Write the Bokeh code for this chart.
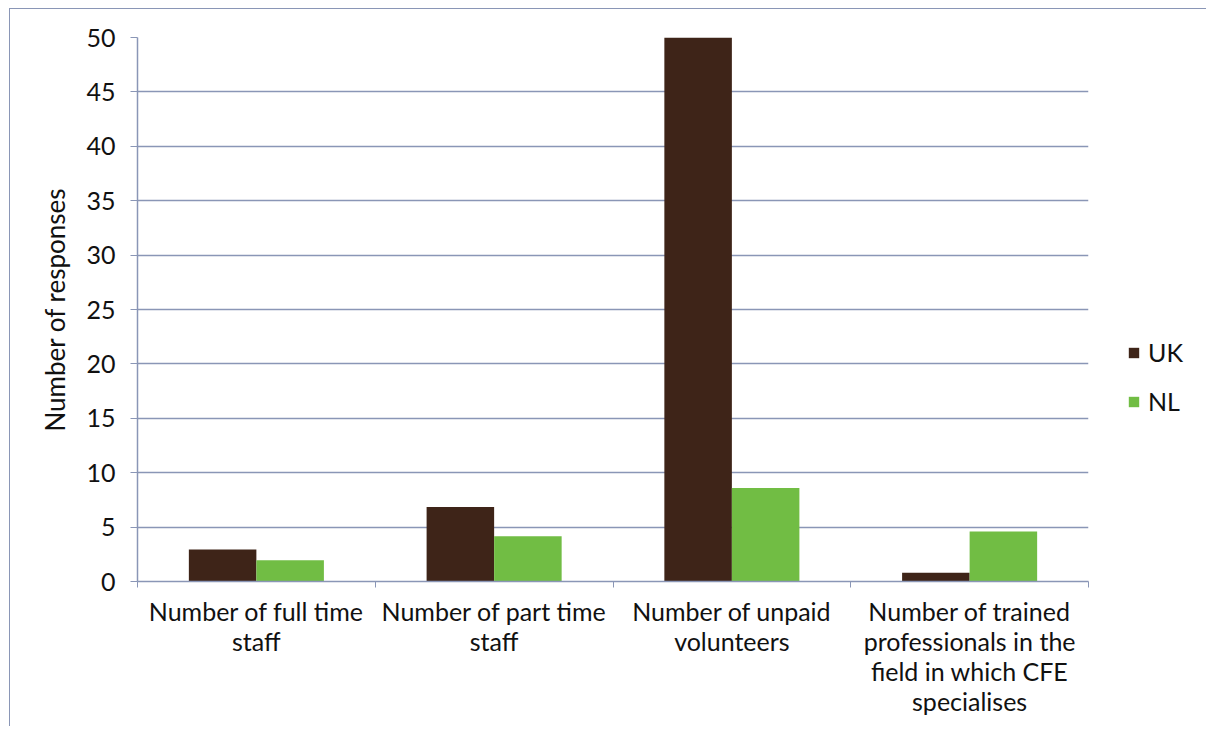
from bokeh.plotting import figure
from bokeh.models import ColumnDataSource, Range1d, FixedTicker, Legend, LegendItem
from bokeh.transform import dodge
from bokeh.embed import file_html
from bokeh.resources import INLINE

categories = [
    "Number of full time\nstaff",
    "Number of part time\nstaff",
    "Number of unpaid\nvolunteers",
    "Number of trained\nprofessionals in the\nfield in which CFE\nspecialises",
]
uk_values = [2.95, 6.85, 50.0, 0.8]
nl_values = [1.95, 4.15, 8.6, 4.6]
series_names = ["UK", "NL"]
series_colors = ["#3e2418", "#71bd44"]
y_ticks = [0, 5, 10, 15, 20, 25, 30, 35, 40, 45, 50]

FONT = "Lato"
FS = "25px"
AXIS_COLOR = "#8a96b6"
TEXT_COLOR = "#111111"

pos = [i + 0.5 for i in range(len(categories))]
source = ColumnDataSource(dict(x=pos, uk=uk_values, nl=nl_values))

p = figure(
    frame_width=951, frame_height=544,
    x_range=Range1d(0, len(categories)), y_range=Range1d(0, 50),
    output_backend="svg", toolbar_location=None,
    min_border_left=127, min_border_right=115, min_border_top=28, min_border_bottom=145,
)
p.styles = {"border-left": "1px solid #8a96b6", "border-top": "1px solid #8a96b6",
            "margin-left": "9px", "margin-top": "8px"}
p.outline_line_color = None
p.background_fill_color = "white"
p.border_fill_color = "white"

bw = 0.284
r_uk = p.vbar(x=dodge("x", -bw / 2, range=p.x_range), top="uk", width=bw, source=source,
              fill_color=series_colors[0], line_color=None)
r_nl = p.vbar(x=dodge("x", bw / 2, range=p.x_range), top="nl", width=bw, source=source,
              fill_color=series_colors[1], line_color=None)

# x axis
p.xaxis.ticker = FixedTicker(ticks=pos, minor_ticks=list(range(len(categories) + 1)))
p.xaxis.major_label_overrides = {x: c for x, c in zip(pos, categories)}
p.xaxis.major_tick_in = 0
p.xaxis.major_tick_out = 0
p.xaxis.minor_tick_in = 0
p.xaxis.minor_tick_out = 6
p.xaxis.minor_tick_line_color = AXIS_COLOR
p.xaxis.axis_line_color = AXIS_COLOR
p.xaxis.axis_line_width = 1.5
p.xaxis.major_label_text_font = FONT
p.xaxis.major_label_text_font_size = FS
p.xaxis.major_label_text_color = TEXT_COLOR
p.xaxis.major_label_text_line_height = 1.0
p.xaxis.major_label_standoff = 8

# y axis
p.yaxis.ticker = FixedTicker(ticks=y_ticks)
p.yaxis.minor_tick_line_color = None
p.yaxis.major_tick_in = 0
p.yaxis.major_tick_out = 7
p.yaxis.major_tick_line_color = AXIS_COLOR
p.yaxis.axis_line_color = AXIS_COLOR
p.yaxis.axis_line_width = 1.5
p.yaxis.major_label_text_font = FONT
p.yaxis.major_label_text_font_size = FS
p.yaxis.major_label_text_color = TEXT_COLOR
p.yaxis.major_label_standoff = 15
p.yaxis.axis_label = "Number of responses"
p.yaxis.axis_label_text_font = FONT
p.yaxis.axis_label_text_font_size = "26px"
p.yaxis.axis_label_text_font_style = "normal"
p.yaxis.axis_label_text_color = TEXT_COLOR
p.yaxis.axis_label_standoff = 12

p.xgrid.grid_line_color = None
p.ygrid.grid_line_color = AXIS_COLOR
p.ygrid.grid_line_width = 1.5

legend = Legend(
    items=[LegendItem(label=series_names[0], renderers=[r_uk]),
           LegendItem(label=series_names[1], renderers=[r_nl])],
    location=(39, 165),
)
legend.glyph_width = 13
legend.glyph_height = 13
legend.label_height = 25
legend.spacing = 19
legend.padding = 0
legend.margin = 0
legend.label_standoff = 8
legend.label_text_font = FONT
legend.label_text_font_size = FS
legend.label_text_color = TEXT_COLOR
legend.border_line_color = None
legend.background_fill_alpha = 0
p.add_layout(legend, "right")

open("out.html", "w").write(file_html(p, INLINE))
